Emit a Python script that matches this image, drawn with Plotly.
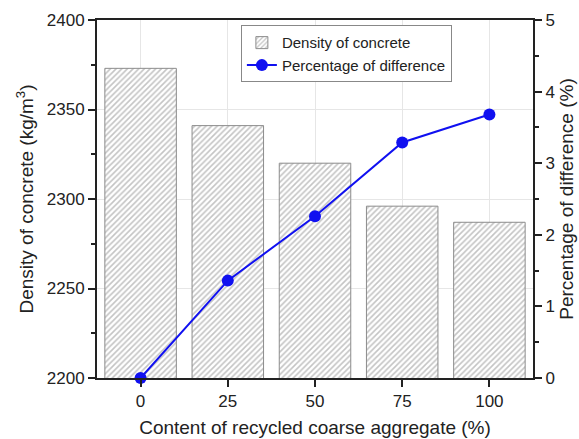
import plotly.graph_objects as go

categories = ["0", "25", "50", "75", "100"]
density = [2373, 2341, 2320, 2296, 2287]
pct_diff = [0.0, 1.36, 2.26, 3.29, 3.68]

FONT = "Liberation Sans, Arial, sans-serif"
xpos = list(range(len(categories)))

fig = go.Figure()
fig.add_trace(go.Bar(
    x=xpos, y=density, name="Density of concrete", width=0.82,
    marker=dict(color="white", line=dict(color="#8c8c8c", width=1),
                pattern=dict(shape="/", fgcolor="#8a8a8a", bgcolor="white", size=4, solidity=0.4)),
    yaxis="y",
))
fig.add_trace(go.Scatter(
    x=xpos, y=pct_diff, name="Percentage of difference", mode="lines+markers",
    line=dict(color="#1010f0", width=2), marker=dict(color="#1010f0", size=12),
    yaxis="y2", cliponaxis=False,
))

axis_common = dict(showline=True, linecolor="#222", linewidth=2, ticks="outside",
                   tickcolor="#222", tickwidth=1.5, ticklen=7, automargin=False,
                   tickfont=dict(family=FONT, size=17, color="#222"))

fig.update_layout(
    width=579, height=439,
    margin=dict(l=97, r=46, t=20, b=61),
    paper_bgcolor="white", plot_bgcolor="white",
    font=dict(family=FONT, color="#222"),
    xaxis=dict(**axis_common, tickvals=xpos, ticktext=categories, range=[-0.5, 4.5],
               mirror=True, showgrid=True, gridcolor="#e6e6e6", gridwidth=1,
               title=dict(text="Content of recycled coarse aggregate (%)",
                          font=dict(family=FONT, size=19, color="#222"), standoff=10)),
    yaxis=dict(**axis_common, range=[2200, 2400], dtick=50, tick0=2200,
               showgrid=True, gridcolor="#e6e6e6", gridwidth=1, zeroline=False,
               minor=dict(dtick=25, ticks="outside", ticklen=4, tickcolor="#222", showgrid=False),
               title=dict(text="Density of concrete (kg/m<sup>3</sup>)",
                          font=dict(family=FONT, size=19, color="#222"), standoff=8)),
    yaxis2=dict(**axis_common, overlaying="y", side="right", range=[0, 5], dtick=1,
                showgrid=False, zeroline=False,
                minor=dict(dtick=0.5, ticks="outside", ticklen=4, tickcolor="#222"),
                title=dict(text="Percentage of difference (%)",
                           font=dict(family=FONT, size=19, color="#222"), standoff=6)),
    legend=dict(x=0.33, y=0.985, xanchor="left", yanchor="top",
                bgcolor="white", bordercolor="#888", borderwidth=1,
                font=dict(family=FONT, size=15, color="#222"),
                tracegroupgap=0, itemwidth=30),
    showlegend=True,
)

fig.write_html("out.html")
